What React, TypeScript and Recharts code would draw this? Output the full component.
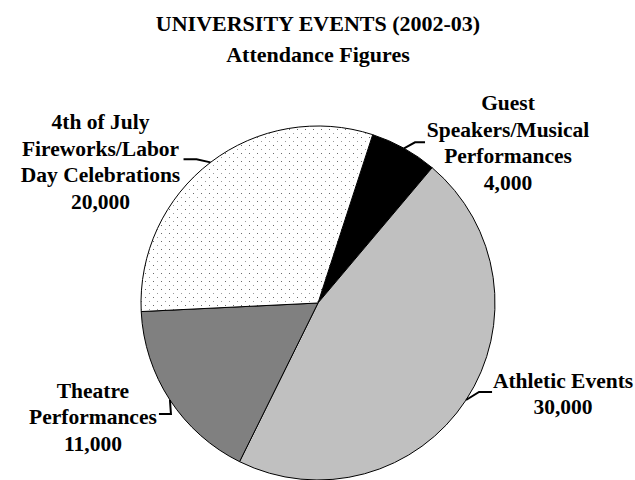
import React from "react";
import { PieChart, Pie, Cell } from "recharts";

const categories = [
  "Guest Speakers/Musical Performances",
  "Athletic Events",
  "Theatre Performances",
  "4th of July Fireworks/Labor Day Celebrations",
];
const attendance = [4000, 30000, 11000, 20000];
const labelLines = [
  ["Guest", "Speakers/Musical", "Performances"],
  ["Athletic Events"],
  ["Theatre", "Performances"],
  ["4th of July", "Fireworks/Labor", "Day Celebrations"],
];
const titleLines = ["UNIVERSITY EVENTS (2002-03)", "Attendance Figures"];

const fills = ["#000000", "#c0c0c0", "#808080", "url(#dots)"];

// leader/label layout relative to the slice's mid-angle point on the rim
const layout = [
  { elbow: [11, -6], end: [21, -6], tx: 104, ty: -38 },
  { elbow: [13, -8], end: [26, -8], tx: 97, ty: -12 },
  { elbow: [1, 14], end: [-11, 14], tx: -77, ty: -2 },
  { elbow: [-14, -3], end: [-27, -3], tx: -110, ty: -33 },
];

const data = categories.map((name, i) => ({ name, value: attendance[i] }));

const FONT = '"Liberation Serif", "Times New Roman", Times, serif';
const RAD = Math.PI / 180;

const textStyle: React.CSSProperties = {
  fontFamily: FONT,
  fontWeight: 700,
};

const renderLabel = (props: any) => {
  const { cx, cy, midAngle, outerRadius, index, value } = props;
  const ex = cx + outerRadius * Math.cos(-midAngle * RAD);
  const ey = cy + outerRadius * Math.sin(-midAngle * RAD);
  const L = layout[index];
  const lines = [...labelLines[index], Number(value).toLocaleString("en-US")];
  return (
    <g key={`lbl-${index}`}>
      <path
        d={`M${ex},${ey} L${ex + L.elbow[0]},${ey + L.elbow[1]} L${ex + L.end[0]},${ey + L.end[1]}`}
        stroke="#000"
        strokeWidth={2}
        fill="none"
      />
      <text
        x={ex + L.tx}
        y={ey + L.ty}
        textAnchor="middle"
        style={{ ...textStyle, fontSize: 21.5 }}
        fill="#000"
      >
        {lines.map((t, k) => (
          <tspan key={k} x={ex + L.tx} dy={k === 0 ? 0 : 26.5}>
            {t}
          </tspan>
        ))}
      </text>
    </g>
  );
};

export default function App() {
  return (
    <div style={{ position: "absolute", left: 0, top: 0, background: "#fff", fontFamily: FONT }}>
      <PieChart width={635} height={480} margin={{ top: 0, right: 0, bottom: 0, left: 0 }}>
        <defs>
          <pattern id="dots" width="8" height="8" patternUnits="userSpaceOnUse">
            <rect width="8" height="8" fill="#ffffff" />
            <rect x="1" y="1" width="1" height="1" fill="#6a6a6a" />
            <rect x="5" y="5" width="1" height="1" fill="#9a9a9a" />
          </pattern>
        </defs>
        <text textAnchor="middle" style={{ ...textStyle, fontSize: 22 }} fill="#000">
          <tspan x={318} y={31}>{titleLines[0]}</tspan>
          <tspan x={318} y={62}>{titleLines[1]}</tspan>
        </text>
        <Pie
          data={data}
          dataKey="value"
          nameKey="name"
          cx={318}
          cy={303}
          outerRadius={177}
          startAngle={72}
          endAngle={-288}
          stroke="#000"
          strokeWidth={1}
          label={renderLabel}
          labelLine={false}
          isAnimationActive={false}
        >
          {data.map((d, i) => (
            <Cell key={d.name} fill={fills[i]} />
          ))}
        </Pie>
      </PieChart>
    </div>
  );
}
